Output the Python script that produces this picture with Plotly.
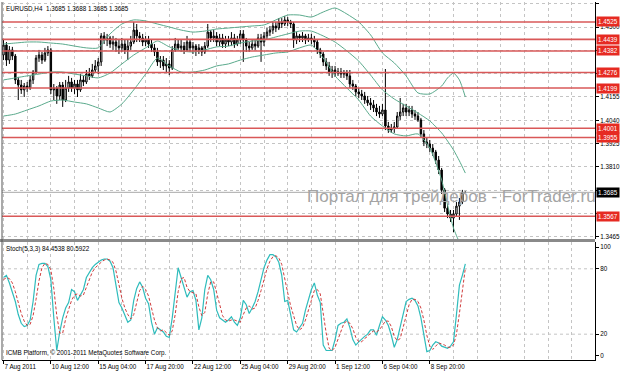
import plotly.graph_objects as go

# ---------------- texts ----------------
symbol_title = "EURUSD,H4  1.3685 1.3688 1.3685 1.3685"
stoch_title = "Stoch(5,3,3) 84.4538 80.5922"
copyright_text = "ICMB Platform, \u00a9 2001-2011 MetaQuotes Software Corp."
watermark = "Портал для трейдеров - ForTrader.ru"

# ---------------- time axis (bar index) ----------------
date_label_bars = [0, 16, 32, 48, 64, 80, 96, 112, 128, 144]
date_labels = ["7 Aug 2011", "10 Aug 12:00", "15 Aug 04:00", "17 Aug 20:00", "22 Aug 12:00",
               "25 Aug 04:00", "29 Aug 20:00", "1 Sep 12:00", "6 Sep 04:00", "8 Sep 20:00"]

# ---------------- OHLC (H4 bars) ----------------
open_ = [1.4362, 1.4411, 1.4337, 1.4387, 1.4357, 1.4239, 1.4214, 1.4190, 1.4209, 1.4199,
         1.4239, 1.4278, 1.4347, 1.4362, 1.4337, 1.4372, 1.4387, 1.4190, 1.4199, 1.4160,
         1.4214, 1.4140, 1.4199, 1.4229, 1.4199, 1.4219, 1.4190, 1.4239, 1.4229, 1.4268,
         1.4259, 1.4288, 1.4308, 1.4328, 1.4456, 1.4436, 1.4446, 1.4416, 1.4426, 1.4406,
         1.4397, 1.4416, 1.4387, 1.4406, 1.4426, 1.4485, 1.4456, 1.4446, 1.4426, 1.4436,
         1.4416, 1.4397, 1.4377, 1.4328, 1.4337, 1.4308, 1.4318, 1.4298, 1.4387, 1.4416,
         1.4397, 1.4406, 1.4387, 1.4426, 1.4397, 1.4406, 1.4387, 1.4397, 1.4377, 1.4406,
         1.4475, 1.4446, 1.4456, 1.4426, 1.4446, 1.4416, 1.4436, 1.4426, 1.4446, 1.4416,
         1.4436, 1.4466, 1.4436, 1.4406, 1.4397, 1.4416, 1.4406, 1.4446, 1.4426, 1.4456,
         1.4475, 1.4485, 1.4505, 1.4495, 1.4525, 1.4515, 1.4535, 1.4525, 1.4515, 1.4436,
         1.4456, 1.4446, 1.4456, 1.4436, 1.4446, 1.4436, 1.4426, 1.4387, 1.4367, 1.4328,
         1.4308, 1.4278, 1.4288, 1.4273, 1.4278, 1.4268, 1.4273, 1.4259, 1.4219, 1.4209,
         1.4180, 1.4170, 1.4160, 1.4140, 1.4126, 1.4116, 1.4101, 1.4081, 1.4071, 1.4091,
         1.4012, 1.3992, 1.4002, 1.4007, 1.4061, 1.4081, 1.4101, 1.4081, 1.4091, 1.4071,
         1.4061, 1.4042, 1.3973, 1.3933, 1.3923, 1.3903, 1.3884, 1.3844, 1.3795, 1.3697,
         1.3607, 1.3578, 1.3558, 1.3578, 1.3617, 1.3637, 1.3685]
close = [1.4411, 1.4337, 1.4387, 1.4357, 1.4239, 1.4214, 1.4190, 1.4209, 1.4199, 1.4239,
         1.4278, 1.4347, 1.4362, 1.4337, 1.4372, 1.4387, 1.4190, 1.4199, 1.4160, 1.4214,
         1.4140, 1.4199, 1.4229, 1.4199, 1.4219, 1.4190, 1.4239, 1.4229, 1.4268, 1.4259,
         1.4288, 1.4308, 1.4328, 1.4456, 1.4436, 1.4446, 1.4416, 1.4426, 1.4406, 1.4397,
         1.4416, 1.4387, 1.4406, 1.4426, 1.4485, 1.4456, 1.4446, 1.4426, 1.4436, 1.4416,
         1.4397, 1.4377, 1.4328, 1.4337, 1.4308, 1.4318, 1.4298, 1.4387, 1.4416, 1.4397,
         1.4406, 1.4387, 1.4426, 1.4397, 1.4406, 1.4387, 1.4397, 1.4377, 1.4406, 1.4475,
         1.4446, 1.4456, 1.4426, 1.4446, 1.4416, 1.4436, 1.4426, 1.4446, 1.4416, 1.4436,
         1.4466, 1.4436, 1.4406, 1.4397, 1.4416, 1.4406, 1.4446, 1.4426, 1.4456, 1.4475,
         1.4485, 1.4505, 1.4495, 1.4525, 1.4515, 1.4535, 1.4525, 1.4515, 1.4436, 1.4456,
         1.4446, 1.4456, 1.4436, 1.4446, 1.4436, 1.4426, 1.4387, 1.4367, 1.4328, 1.4308,
         1.4278, 1.4288, 1.4273, 1.4278, 1.4268, 1.4273, 1.4259, 1.4219, 1.4209, 1.4180,
         1.4170, 1.4160, 1.4140, 1.4126, 1.4116, 1.4101, 1.4081, 1.4071, 1.4091, 1.4012,
         1.3992, 1.4002, 1.4007, 1.4061, 1.4081, 1.4101, 1.4081, 1.4091, 1.4071, 1.4061,
         1.4042, 1.3973, 1.3933, 1.3923, 1.3903, 1.3884, 1.3844, 1.3795, 1.3697, 1.3607,
         1.3578, 1.3558, 1.3578, 1.3617, 1.3637, 1.3685, 1.3685]
high = [1.4436, 1.4426, 1.4406, 1.4402, 1.4367, 1.4254, 1.4239, 1.4224, 1.4229, 1.4259,
        1.4288, 1.4362, 1.4387, 1.4377, 1.4397, 1.4406, 1.4397, 1.4219, 1.4209, 1.4229,
        1.4229, 1.4239, 1.4259, 1.4249, 1.4239, 1.4239, 1.4268, 1.4259, 1.4288, 1.4298,
        1.4318, 1.4337, 1.4347, 1.4470, 1.4475, 1.4466, 1.4456, 1.4456, 1.4446, 1.4436,
        1.4446, 1.4436, 1.4436, 1.4456, 1.4525, 1.4515, 1.4475, 1.4466, 1.4456, 1.4456,
        1.4436, 1.4416, 1.4397, 1.4357, 1.4357, 1.4347, 1.4337, 1.4406, 1.4446, 1.4436,
        1.4436, 1.4426, 1.4456, 1.4436, 1.4426, 1.4416, 1.4416, 1.4406, 1.4426, 1.4515,
        1.4485, 1.4485, 1.4475, 1.4466, 1.4466, 1.4456, 1.4456, 1.4475, 1.4466, 1.4456,
        1.4485, 1.4485, 1.4446, 1.4426, 1.4436, 1.4436, 1.4466, 1.4466, 1.4475, 1.4495,
        1.4505, 1.4525, 1.4525, 1.4544, 1.4544, 1.4554, 1.4549, 1.4535, 1.4525, 1.4475,
        1.4466, 1.4475, 1.4466, 1.4466, 1.4466, 1.4456, 1.4436, 1.4397, 1.4377, 1.4347,
        1.4328, 1.4308, 1.4308, 1.4298, 1.4298, 1.4288, 1.4288, 1.4288, 1.4239, 1.4219,
        1.4199, 1.4190, 1.4180, 1.4160, 1.4150, 1.4140, 1.4121, 1.4111, 1.4121, 1.4293,
        1.4032, 1.4022, 1.4032, 1.4081, 1.4150, 1.4121, 1.4121, 1.4111, 1.4111, 1.4091,
        1.4081, 1.4052, 1.3992, 1.3953, 1.3943, 1.3923, 1.3894, 1.3864, 1.3805, 1.3706,
        1.3627, 1.3598, 1.3598, 1.3637, 1.3657, 1.3697, 1.3688]
low = [1.4337, 1.4308, 1.4318, 1.4337, 1.4219, 1.4140, 1.4170, 1.4155, 1.4180, 1.4190,
       1.4219, 1.4268, 1.4328, 1.4318, 1.4328, 1.4357, 1.4170, 1.4140, 1.4121, 1.4140,
       1.4106, 1.4130, 1.4180, 1.4180, 1.4170, 1.4155, 1.4180, 1.4209, 1.4219, 1.4239,
       1.4249, 1.4278, 1.4268, 1.4308, 1.4416, 1.4406, 1.4397, 1.4387, 1.4377, 1.4367,
       1.4377, 1.4367, 1.4337, 1.4387, 1.4416, 1.4426, 1.4426, 1.4406, 1.4406, 1.4397,
       1.4377, 1.4357, 1.4308, 1.4298, 1.4288, 1.4278, 1.4263, 1.4288, 1.4377, 1.4387,
       1.4377, 1.4367, 1.4377, 1.4377, 1.4367, 1.4357, 1.4367, 1.4357, 1.4367, 1.4397,
       1.4426, 1.4426, 1.4406, 1.4406, 1.4397, 1.4397, 1.4406, 1.4406, 1.4397, 1.4406,
       1.4416, 1.4328, 1.4377, 1.4377, 1.4387, 1.4387, 1.4397, 1.4328, 1.4406, 1.4436,
       1.4456, 1.4466, 1.4475, 1.4485, 1.4495, 1.4505, 1.4505, 1.4495, 1.4397, 1.4416,
       1.4426, 1.4426, 1.4416, 1.4426, 1.4416, 1.4397, 1.4367, 1.4347, 1.4308, 1.4288,
       1.4259, 1.4249, 1.4254, 1.4259, 1.4249, 1.4249, 1.4239, 1.4199, 1.4190, 1.4160,
       1.4150, 1.4140, 1.4121, 1.4111, 1.4091, 1.4081, 1.4061, 1.4052, 1.4061, 1.3992,
       1.3978, 1.3978, 1.3978, 1.4002, 1.4042, 1.4061, 1.4061, 1.4061, 1.4052, 1.4042,
       1.4032, 1.3953, 1.3913, 1.3903, 1.3884, 1.3864, 1.3825, 1.3775, 1.3677, 1.3588,
       1.3558, 1.3539, 1.3489, 1.3568, 1.3549, 1.3627, 1.3685]
bars = list(range(len(close)))

# ---------------- Bollinger bands ----------------
bb_bars = [0, 4, 8, 12, 16, 20, 24, 28, 32, 36, 40, 44, 48, 52, 56, 60, 64, 68, 72, 76,
           80, 84, 88, 92, 96, 100, 104, 108, 112, 116, 120, 124, 128, 132, 136, 140, 144,
           148, 150, 152, 154, 156]
bb_upper = [1.4416, 1.4421, 1.4426, 1.4426, 1.4421, 1.4416, 1.4406, 1.4397, 1.4397, 1.4466,
            1.4515, 1.4535, 1.4530, 1.4515, 1.4500, 1.4485, 1.4475, 1.4480, 1.4490, 1.4495,
            1.4500, 1.4505, 1.4510, 1.4535, 1.4559, 1.4559, 1.4549, 1.4574, 1.4594, 1.4564,
            1.4525, 1.4461, 1.4372, 1.4323, 1.4259, 1.4175, 1.4170, 1.4209, 1.4249, 1.4273,
            1.4239, 1.4155]
bb_middle = [1.4239, 1.4249, 1.4259, 1.4268, 1.4278, 1.4278, 1.4268, 1.4259, 1.4249, 1.4273,
             1.4318, 1.4362, 1.4397, 1.4431, 1.4402, 1.4382, 1.4377, 1.4387, 1.4402, 1.4406,
             1.4421, 1.4431, 1.4436, 1.4451, 1.4466, 1.4480, 1.4480, 1.4456, 1.4426, 1.4382,
             1.4332, 1.4263, 1.4190, 1.4145, 1.4111, 1.4076, 1.4037, 1.3978, 1.3938, 1.3894,
             1.3840, 1.3780]
bb_lower = [1.4061, 1.4071, 1.4091, 1.4111, 1.4135, 1.4140, 1.4130, 1.4121, 1.4101, 1.4081,
            1.4121, 1.4190, 1.4268, 1.4347, 1.4308, 1.4278, 1.4278, 1.4288, 1.4308, 1.4318,
            1.4337, 1.4352, 1.4362, 1.4372, 1.4377, 1.4397, 1.4411, 1.4347, 1.4259, 1.4199,
            1.4140, 1.4061, 1.4012, 1.3973, 1.3963, 1.3973, 1.3903, 1.3746, 1.3623, 1.3509,
            1.3440, 1.3401]

# ---------------- Stochastic (5,3,3) ----------------
stoch_main = [72, 74, 67, 59, 50, 38, 30, 27, 28, 33,
              50, 74, 84, 85, 85, 82, 70, 35, 5, 22,
              35, 44, 49, 61, 59, 51, 56, 61, 72, 77,
              81, 84, 86, 88, 89, 89, 87, 81, 65, 49,
              44, 38, 31, 33, 51, 62, 68, 63, 53, 48,
              31, 20, 26, 24, 22, 18, 17, 35, 61, 81,
              72, 63, 54, 59, 60, 51, 24, 35, 61, 74,
              70, 61, 42, 35, 33, 31, 33, 36, 31, 28,
              35, 51, 47, 39, 44, 50, 59, 70, 81, 88,
              93, 93, 91, 86, 74, 50, 51, 38, 24, 22,
              26, 30, 42, 51, 61, 67, 56, 49, 10, 5,
              5, 5, 15, 28, 30, 31, 34, 26, 15, 10,
              13, 16, 18, 20, 24, 24, 19, 28, 36, 33,
              28, 19, 8, 15, 26, 38, 50, 52, 53, 51,
              46, 35, 19, 4, 5, 10, 13, 12, 9, 8,
              7, 9, 13, 38, 65, 74, 84.4538]
stoch_signal = [70, 72, 71, 67, 59, 49, 39, 32, 28, 29,
                37, 52, 69, 81, 85, 84, 79, 62, 37, 21,
                21, 34, 43, 51, 56, 57, 55, 56, 63, 70,
                77, 81, 84, 86, 88, 89, 88, 86, 78, 65,
                53, 44, 38, 34, 38, 49, 60, 64, 61, 55,
                44, 33, 26, 23, 24, 21, 19, 23, 38, 59,
                71, 72, 63, 59, 58, 57, 45, 37, 40, 57,
                68, 68, 58, 46, 37, 33, 32, 33, 33, 32,
                31, 38, 44, 46, 43, 44, 51, 60, 70, 80,
                87, 91, 92, 90, 84, 70, 58, 46, 38, 28,
                24, 26, 33, 41, 51, 60, 61, 57, 38, 21,
                7, 5, 8, 16, 24, 30, 32, 30, 25, 17,
                13, 13, 16, 18, 21, 23, 22, 24, 28, 32,
                32, 27, 18, 14, 16, 26, 38, 47, 52, 52,
                50, 44, 33, 19, 9, 6, 9, 12, 11, 10,
                8, 8, 10, 20, 39, 59, 80.5922]
stoch_levels = [20, 80]
stoch_ticks = [0, 20, 80, 100]

# ---------------- horizontal levels ----------------
levels = [1.4525, 1.4439, 1.4382, 1.4276, 1.4199, 1.4001, 1.3955, 1.3567]
current_price = 1.3685
price_ticks = [1.3465, 1.3580, 1.3695, 1.3810, 1.3925, 1.4040, 1.4155, 1.4270, 1.4385, 1.4500, 1.4615]
price_tick_text = ["1.3465", "", "", "1.3810", "1.3925", "1.4040", "1.4155", "", "", "1.4500", ""]

# ---------------- styles ----------------
FONT = "Liberation Sans, Arial, sans-serif"
FS = 6.3
grid_c = "#c4c4c4"
bb_color = "#5aaa8c"
level_color = "#d95858"
label_red = "#e62a22"

fig = go.Figure()

fig.add_trace(go.Candlestick(
    x=bars, open=open_, high=high, low=low, close=close,
    increasing=dict(line=dict(color="black", width=1), fillcolor="white"),
    decreasing=dict(line=dict(color="black", width=1), fillcolor="black"),
    whiskerwidth=0, xaxis="x", yaxis="y", hoverinfo="skip"))

for band in (bb_upper, bb_middle, bb_lower):
    fig.add_trace(go.Scatter(x=bb_bars, y=band, mode="lines", xaxis="x", yaxis="y",
                             line=dict(color=bb_color, width=1, shape="spline", smoothing=0.6),
                             hoverinfo="skip"))

fig.add_trace(go.Scatter(x=bars, y=stoch_main, mode="lines", xaxis="x2", yaxis="y2",
                         line=dict(color="#2fbcbc", width=1.2), hoverinfo="skip"))
fig.add_trace(go.Scatter(x=bars, y=stoch_signal, mode="lines", xaxis="x2", yaxis="y2",
                         line=dict(color="#d03c3c", width=1, dash="3px,2px"), hoverinfo="skip"))

shapes = []
# current price line
shapes.append(dict(type="line", xref="x domain", x0=0, x1=1, yref="y", y0=current_price, y1=current_price,
                   line=dict(color="#a8a8a8", width=1)))
for lv in levels:
    shapes.append(dict(type="line", xref="x domain", x0=0, x1=1, yref="y", y0=lv, y1=lv,
                       line=dict(color=level_color, width=1.6)))
for lv in stoch_levels:
    shapes.append(dict(type="line", xref="x2 domain", x0=0, x1=1, yref="y2", y0=lv, y1=lv,
                       line=dict(color=grid_c, width=1, dash="dot"), layer="below"))
# panel separator and frame
shapes.append(dict(type="rect", xref="paper", yref="paper", x0=-0.0034, x1=1, y0=0.3296, y1=0.338,
                   fillcolor="#8a8a8a", line=dict(width=0)))
shapes.append(dict(type="line", xref="paper", yref="paper", x0=0, x1=0, y0=0, y1=1,
                   line=dict(color="#555555", width=1)))

annotations = []
for lv in levels:
    annotations.append(dict(text=f"{lv:.4f}", x=1, xref="paper", xanchor="left", xshift=1,
                            y=lv, yref="y", yanchor="middle", showarrow=False,
                            font=dict(family=FONT, size=FS, color="white"),
                            bgcolor=label_red, borderpad=1))
annotations.append(dict(text=f"{current_price:.4f}", x=1, xref="paper", xanchor="left", xshift=1,
                        y=current_price, yref="y", yanchor="middle", showarrow=False,
                        font=dict(family=FONT, size=FS, color="white"),
                        bgcolor="black", borderpad=1))
annotations.append(dict(text=symbol_title, x=0.0034, xref="paper", xanchor="left",
                        y=0.983, yref="paper", yanchor="middle", showarrow=False,
                        font=dict(family=FONT, size=FS, color="black")))
annotations.append(dict(text=stoch_title, x=0.0034, xref="paper", xanchor="left",
                        y=0.31, yref="paper", yanchor="middle", showarrow=False,
                        font=dict(family=FONT, size=FS, color="black")))
annotations.append(dict(text=copyright_text, x=0.0034, xref="paper", xanchor="left",
                        y=0.0196, yref="paper", yanchor="middle", showarrow=False,
                        font=dict(family=FONT, size=FS, color="black")))
annotations.append(dict(text=watermark, x=0.511, xref="paper", xanchor="left",
                        y=0.458, yref="paper", yanchor="middle", showarrow=False,
                        font=dict(family=FONT, size=17, color="#a4a4a4")))

minor_grid = dict(tickmode="linear", tick0=0, dtick=8, showgrid=True, gridcolor=grid_c,
                  griddash="dot", gridwidth=1, ticks="")

fig.update_layout(
    width=623, height=373, margin=dict(l=2, r=28, t=2, b=13),
    paper_bgcolor="white", plot_bgcolor="white", showlegend=False,
    shapes=shapes, annotations=annotations,
    xaxis=dict(domain=[0, 1], anchor="y", range=[-0.5, 199.8], tickvals=date_label_bars,
               showticklabels=False, ticks="", showgrid=True, gridcolor=grid_c, griddash="dot",
               zeroline=False, rangeslider=dict(visible=False), minor=minor_grid, fixedrange=True),
    xaxis2=dict(domain=[0, 1], anchor="y2", range=[-0.5, 199.8], tickmode="array",
                tickvals=date_label_bars, ticktext=date_labels, ticks="outside", ticklen=3,
                tickcolor="black", ticklabelposition="outside right",
                tickfont=dict(family=FONT, size=FS, color="black"),
                showgrid=True, gridcolor=grid_c, griddash="dot", zeroline=False,
                showline=True, linecolor="black", linewidth=1, minor=minor_grid),
    yaxis=dict(domain=[0.338, 1], anchor="x", side="right", range=[1.34549, 1.46233],
               tickmode="array", tickvals=price_ticks, ticktext=price_tick_text,
               ticks="outside", ticklen=3, tickcolor="black",
               tickfont=dict(family=FONT, size=FS, color="black"),
               showgrid=True, gridcolor=grid_c, griddash="dot", zeroline=False,
               showline=True, linecolor="black", linewidth=1),
    yaxis2=dict(domain=[0, 0.3296], anchor="x2", side="right", range=[-3.7, 104.6],
                tickmode="array", tickvals=stoch_ticks, ticks="outside", ticklen=3,
                tickcolor="black", tickfont=dict(family=FONT, size=FS, color="black"),
                showgrid=False, zeroline=False, showline=True, linecolor="black", linewidth=1),
)

fig.write_html("out.html")
